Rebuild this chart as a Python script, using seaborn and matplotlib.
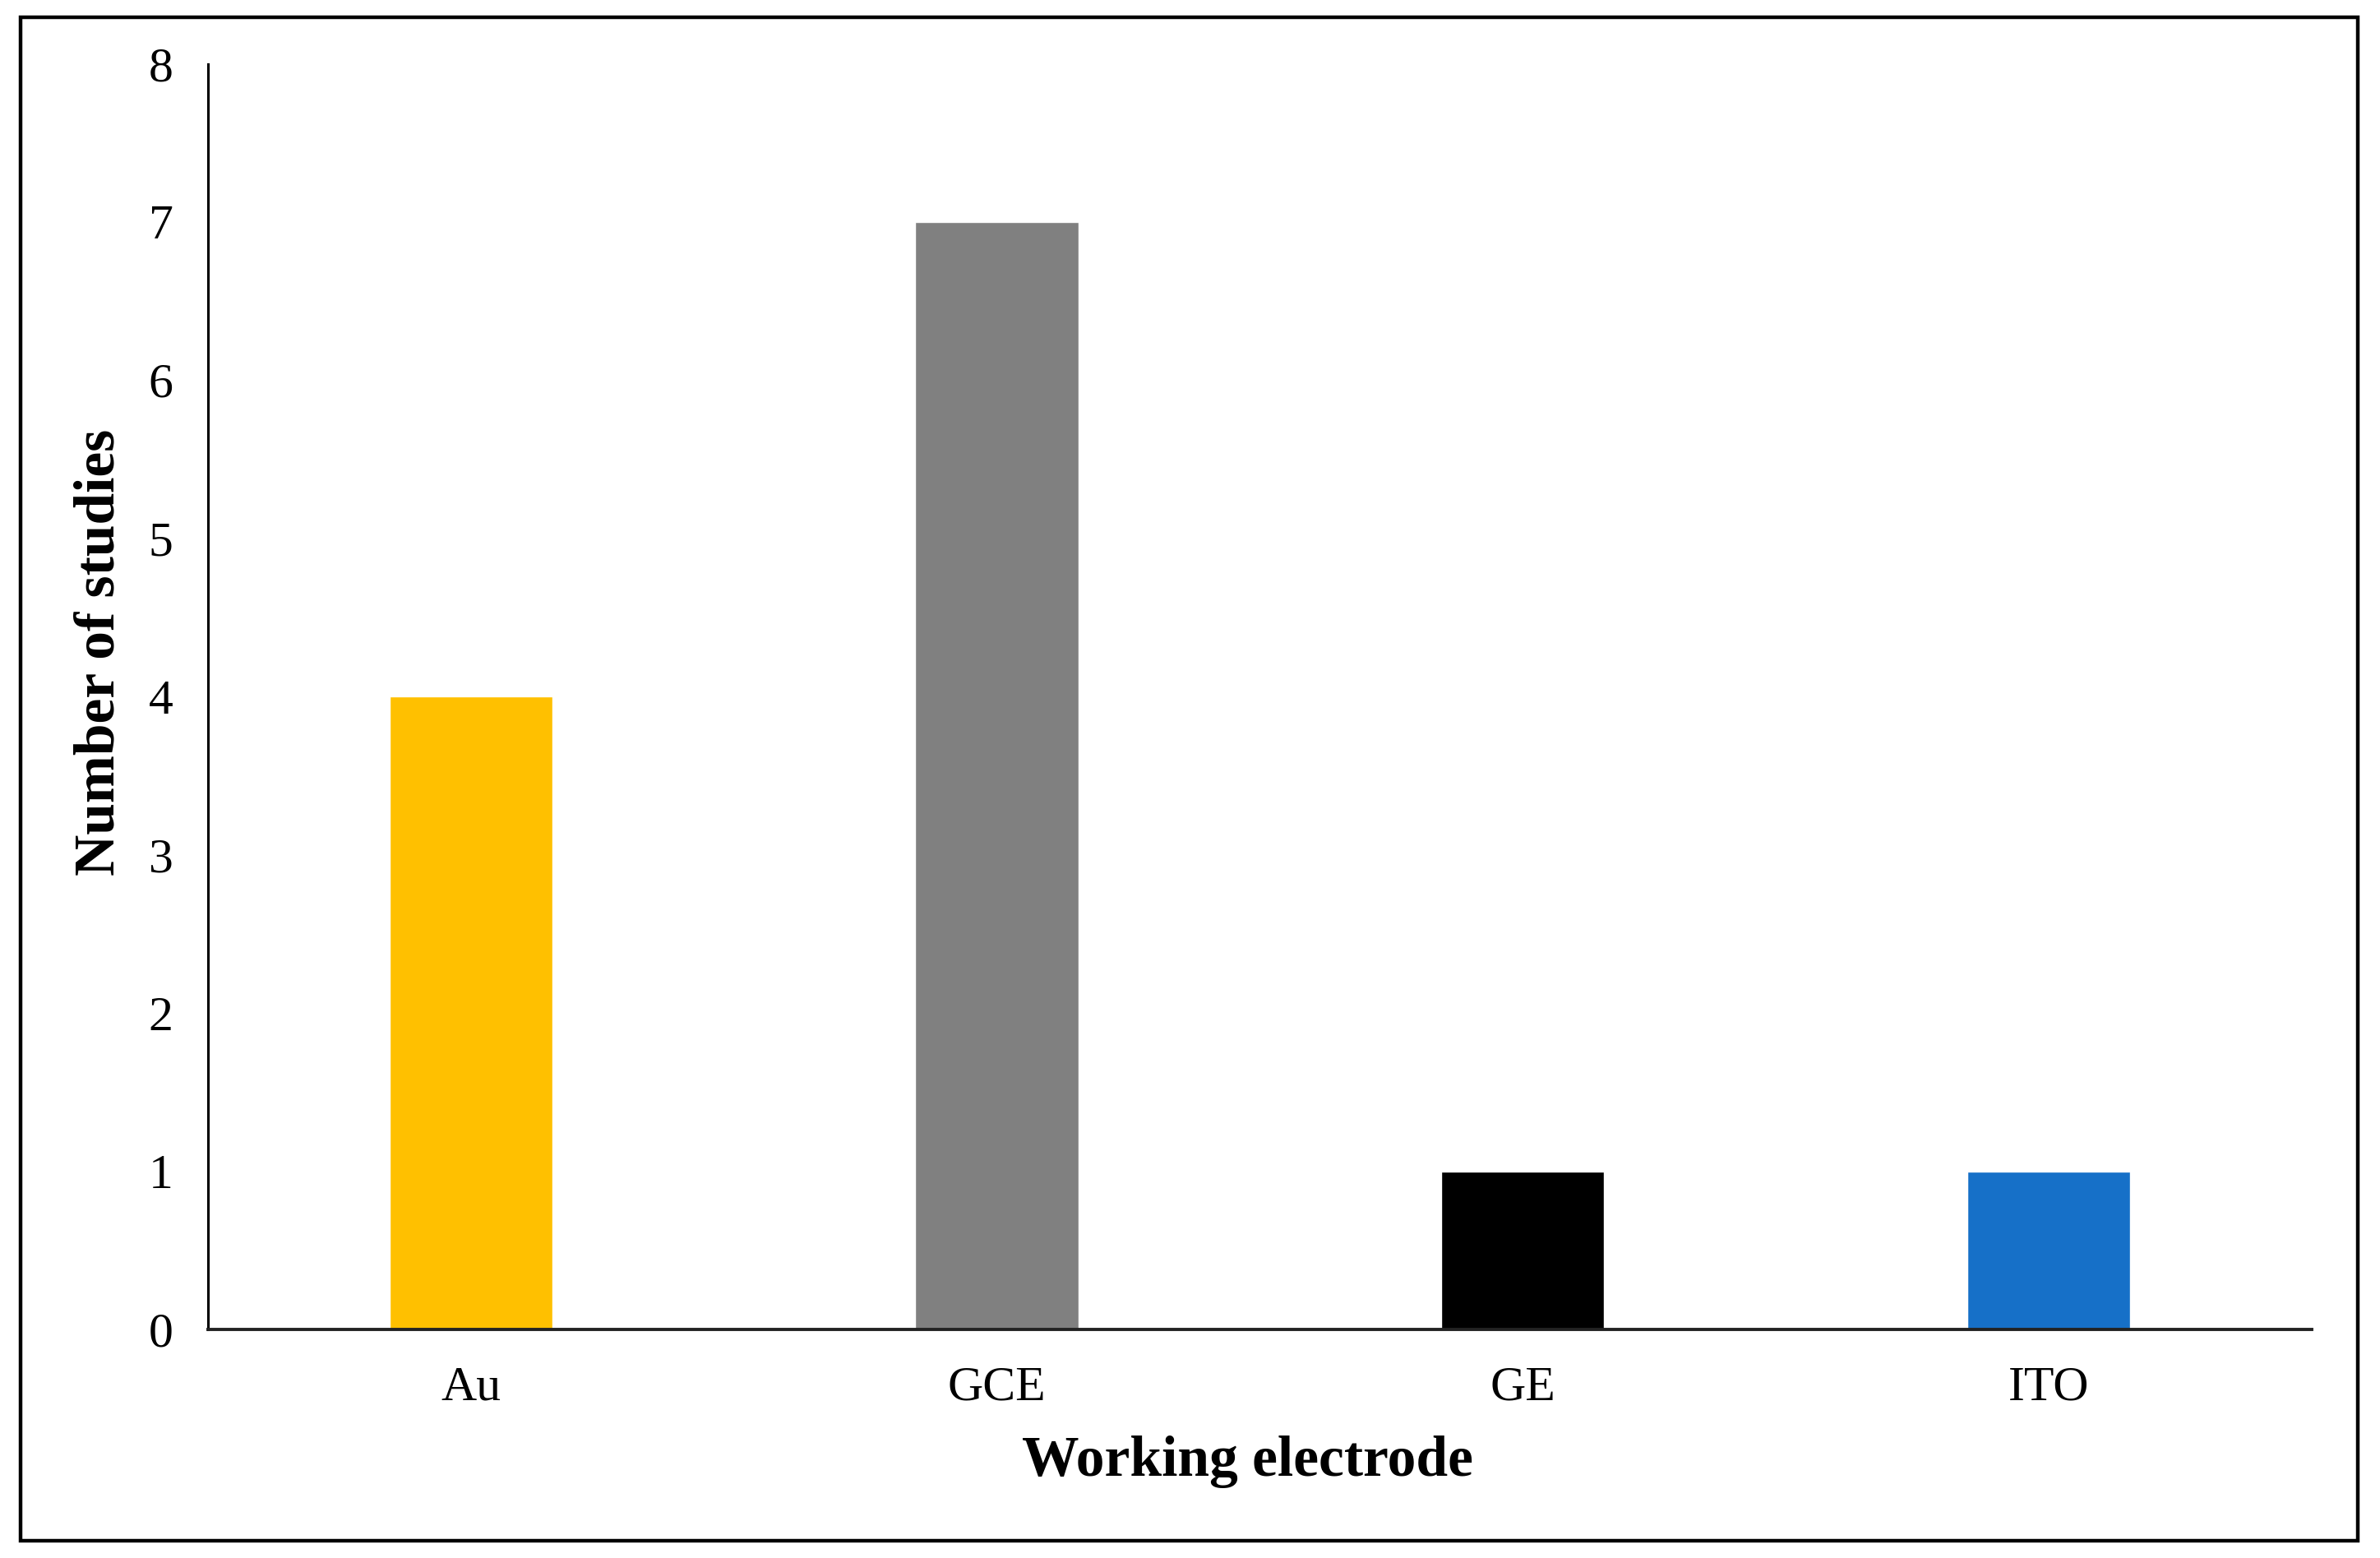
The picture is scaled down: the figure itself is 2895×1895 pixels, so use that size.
import matplotlib
matplotlib.use("Agg")
import matplotlib.pyplot as plt
import seaborn as sns
import pandas as pd
from matplotlib.patches import Rectangle

sns.set_style("white")
plt.rcParams["font.family"] = ["Liberation Serif", "DejaVu Serif"]
plt.rcParams["text.color"] = "black"
plt.rcParams["axes.labelcolor"] = "black"
plt.rcParams["xtick.color"] = "black"
plt.rcParams["ytick.color"] = "black"

electrodes = ["Au", "GCE", "GE", "ITO"]
n_studies = [4, 7, 1, 1]
bar_colors = ["#FFC000", "#808080", "#000000", "#1670C8"]

df = pd.DataFrame({"Electrode": electrodes, "Studies": n_studies})

fig = plt.figure(figsize=(28.95, 18.95), dpi=100)
ax = fig.add_axes([0.0874, 0.1467, 0.8838, 0.8124])

sns.barplot(data=df, x="Electrode", y="Studies", hue="Electrode",
            palette=bar_colors, legend=False, width=0.31, saturation=1, ax=ax)

ax.set_xlim(-0.5, 3.5)
ax.set_ylim(0, 8)
ax.set_yticks(range(0, 9))
ax.set_xlabel("Working electrode", fontsize=50, fontweight="bold")
ax.set_ylabel("Number of studies", fontsize=50, fontweight="bold")
ax.xaxis.set_label_coords(0.494, -0.084)
ax.yaxis.set_label_coords(-0.039, 0.535)

ax.tick_params(axis="y", direction="inout", length=25, width=2.2, labelsize=43, pad=18)
ax.tick_params(axis="x", length=0, labelsize=43, pad=32)

for s in ["top", "right"]:
    ax.spines[s].set_visible(False)
ax.spines["left"].set_linewidth(2.2)
ax.spines["bottom"].set_linewidth(2.8)
ax.spines["left"].set_color("black")
ax.spines["bottom"].set_color("#222222")

# frame around the whole figure
fig.patches.append(Rectangle((0.0086, 0.011), 0.9821, 0.978, transform=fig.transFigure,
                             fill=False, edgecolor="black", linewidth=3.2))

fig.savefig("out.png", dpi=100, facecolor="white")
